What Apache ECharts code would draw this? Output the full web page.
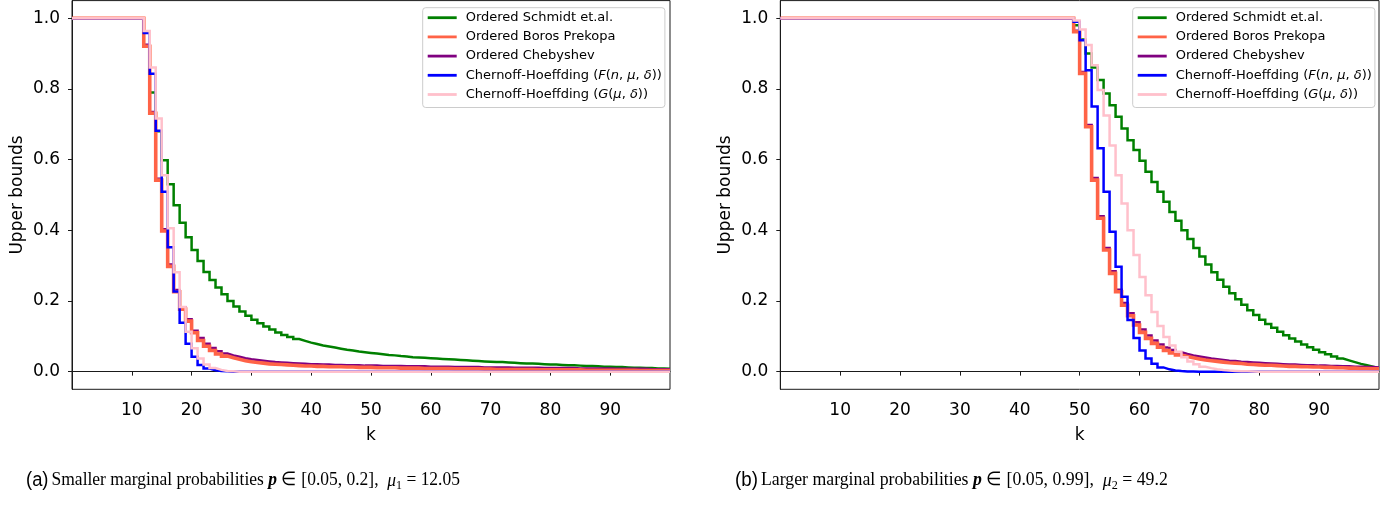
<!DOCTYPE html>
<html>
<head>
<meta charset="utf-8">
<script src="https://cdn.jsdelivr.net/npm/echarts@6/dist/echarts.min.js"></script>
<style>
html,body{margin:0;padding:0;background:#fff;}
#chart{width:1394px;height:505px;}
</style>
</head>
<body>
<div id="chart"></div>
<script>
// k = 0..100
const kValues = Array.from({length: 101}, (_, i) => i);
const xTicks = [10, 20, 30, 40, 50, 60, 70, 80, 90];
const yTicks = [0, 0.2, 0.4, 0.6, 0.8, 1.0];

const seriesNames = [
  'Ordered Schmidt et.al.',
  'Ordered Boros Prekopa',
  'Ordered Chebyshev',
  'Chernoff-Hoeffding (F(n, μ, δ))',
  'Chernoff-Hoeffding (G(μ, δ))'
];

// ---- (a) mu1 = 12.05 ----
const leftSchmidt = [
  1,1,1,1,1,1,1,1,1,1,
  1,1,1,0.92,0.79,0.68,0.598,0.53,0.471,0.421,
  0.38,0.344,0.313,0.282,0.259,0.238,0.219,0.2,0.184,0.17,
  0.158,0.147,0.137,0.128,0.119,0.111,0.104,0.098,0.092,0.087,
  0.082,0.078,0.074,0.071,0.068,0.065,0.062,0.06,0.057,0.055,
  0.053,0.051,0.049,0.047,0.046,0.044,0.043,0.041,0.04,0.039,
  0.038,0.037,0.036,0.035,0.034,0.033,0.032,0.031,0.03,0.029,
  0.028,0.027,0.027,0.026,0.025,0.024,0.023,0.023,0.022,0.021,
  0.02,0.02,0.019,0.018,0.018,0.017,0.016,0.016,0.015,0.014,
  0.014,0.013,0.013,0.012,0.011,0.011,0.01,0.01,0.009,0.009,
  0.008
];
const leftBoros = [
  1,1,1,1,1,1,1,1,1,1,
  1,1,1,0.921,0.731,0.542,0.398,0.298,0.226,0.177,
  0.143,0.11,0.088,0.072,0.06,0.05,0.044,0.039,0.035,0.031,
  0.028,0.026,0.024,0.022,0.021,0.02,0.019,0.018,0.017,0.016,
  0.016,0.015,0.015,0.014,0.014,0.014,0.013,0.013,0.012,0.012,
  0.012,0.011,0.011,0.011,0.011,0.01,0.01,0.01,0.01,0.009,
  0.009,0.009,0.009,0.009,0.008,0.008,0.008,0.008,0.008,0.007,
  0.007,0.006,0.006,0.006,0.006,0.006,0.006,0.006,0.005,0.005,
  0.005,0.005,0.005,0.005,0.005,0.005,0.004,0.004,0.004,0.004,
  0.004,0.004,0.004,0.004,0.004,0.003,0.003,0.003,0.003,0.003,
  0.003
];
const leftCheb = [
  1,1,1,1,1,1,1,1,1,1,
  1,1,1,0.925,0.735,0.546,0.403,0.303,0.231,0.182,
  0.148,0.116,0.095,0.079,0.067,0.058,0.051,0.046,0.042,0.038,
  0.035,0.033,0.031,0.029,0.027,0.026,0.025,0.024,0.023,0.022,
  0.021,0.021,0.02,0.02,0.019,0.019,0.018,0.018,0.018,0.017,
  0.017,0.017,0.016,0.016,0.016,0.016,0.015,0.015,0.015,0.015,
  0.014,0.014,0.014,0.014,0.013,0.013,0.013,0.013,0.013,0.012,
  0.012,0.012,0.012,0.012,0.011,0.011,0.011,0.011,0.011,0.01,
  0.01,0.01,0.01,0.01,0.01,0.009,0.009,0.009,0.009,0.009,
  0.009,0.008,0.008,0.008,0.008,0.008,0.008,0.007,0.007,0.007,
  0.007
];
const leftChernoffF = [
  1,1,1,1,1,1,1,1,1,1,
  1,1,1,0.958,0.843,0.682,0.509,0.352,0.227,0.138,
  0.079,0.042,0.019,0.009,0.004,0.002,0.001,0,0,0,
  0,0,0,0,0,0,0,0,0,0,
  0,0,0,0,0,0,0,0,0,0,
  0,0,0,0,0,0,0,0,0,0,
  0,0,0,0,0,0,0,0,0,0,
  0,0,0,0,0,0,0,0,0,0,
  0,0,0,0,0,0,0,0,0,0,
  0,0,0,0,0,0,0,0,0,0,
  0
];
const leftChernoffG = [
  1,1,1,1,1,1,1,1,1,1,
  1,1,1,0.964,0.861,0.716,0.556,0.406,0.281,0.183,
  0.113,0.066,0.037,0.02,0.01,0.005,0.002,0.001,0,0,
  0,0,0,0,0,0,0,0,0,0,
  0,0,0,0,0,0,0,0,0,0,
  0,0,0,0,0,0,0,0,0,0,
  0,0,0,0,0,0,0,0,0,0,
  0,0,0,0,0,0,0,0,0,0,
  0,0,0,0,0,0,0,0,0,0,
  0,0,0,0,0,0,0,0,0,0,
  0
];

// ---- (b) mu2 = 49.2 ----
const rightSchmidt = [
  1,1,1,1,1,1,1,1,1,1,
  1,1,1,1,1,1,1,1,1,1,
  1,1,1,1,1,1,1,1,1,1,
  1,1,1,1,1,1,1,1,1,1,
  1,1,1,1,1,1,1,1,1,1,
  0.98,0.94,0.9,0.861,0.825,0.787,0.754,0.721,0.688,0.655,
  0.627,0.597,0.566,0.537,0.509,0.481,0.452,0.427,0.4,0.375,
  0.35,0.326,0.303,0.281,0.26,0.24,0.222,0.205,0.189,0.174,
  0.16,0.147,0.135,0.124,0.113,0.103,0.094,0.085,0.077,0.069,
  0.062,0.055,0.049,0.043,0.037,0.032,0.027,0.022,0.018,0.014,
  0.01
];
const rightBoros = [
  1,1,1,1,1,1,1,1,1,1,
  1,1,1,1,1,1,1,1,1,1,
  1,1,1,1,1,1,1,1,1,1,
  1,1,1,1,1,1,1,1,1,1,
  1,1,1,1,1,1,1,1,1,1,
  0.962,0.844,0.693,0.542,0.434,0.344,0.278,0.226,0.188,0.158,
  0.132,0.111,0.094,0.08,0.069,0.06,0.053,0.047,0.043,0.039,
  0.036,0.033,0.031,0.029,0.027,0.025,0.024,0.023,0.021,0.02,
  0.019,0.018,0.018,0.017,0.016,0.015,0.015,0.014,0.014,0.013,
  0.013,0.012,0.012,0.011,0.011,0.01,0.01,0.009,0.009,0.008,
  0.008
];
const rightCheb = [
  1,1,1,1,1,1,1,1,1,1,
  1,1,1,1,1,1,1,1,1,1,
  1,1,1,1,1,1,1,1,1,1,
  1,1,1,1,1,1,1,1,1,1,
  1,1,1,1,1,1,1,1,1,1,
  0.965,0.848,0.698,0.548,0.44,0.35,0.284,0.232,0.194,0.165,
  0.14,0.119,0.102,0.088,0.077,0.068,0.061,0.055,0.05,0.046,
  0.043,0.04,0.037,0.035,0.033,0.031,0.03,0.028,0.027,0.026,
  0.025,0.024,0.023,0.022,0.021,0.02,0.02,0.019,0.018,0.018,
  0.017,0.017,0.016,0.016,0.015,0.015,0.014,0.014,0.013,0.013,
  0.012
];
const rightChernoffF = [
  1,1,1,1,1,1,1,1,1,1,
  1,1,1,1,1,1,1,1,1,1,
  1,1,1,1,1,1,1,1,1,1,
  1,1,1,1,1,1,1,1,1,1,
  1,1,1,1,1,1,1,1,1,1,
  0.99,0.938,0.853,0.75,0.632,0.509,0.396,0.297,0.212,0.146,
  0.095,0.06,0.037,0.022,0.012,0.0065,0.0033,0.0016,0.0007,0.0003,
  0,0,0,0,0,0,0,0,0,0,
  0,0,0,0,0,0,0,0,0,0,
  0,0,0,0,0,0,0,0,0,0,
  0
];
const rightChernoffG = [
  1,1,1,1,1,1,1,1,1,1,
  1,1,1,1,1,1,1,1,1,1,
  1,1,1,1,1,1,1,1,1,1,
  1,1,1,1,1,1,1,1,1,1,
  1,1,1,1,1,1,1,1,1,1,
  0.994,0.968,0.924,0.867,0.797,0.725,0.64,0.556,0.476,0.4,
  0.33,0.268,0.216,0.169,0.129,0.098,0.074,0.056,0.041,0.029,
  0.021,0.014,0.0099,0.0067,0.0045,0.003,0.002,0.0013,0.0008,0.0005,
  0,0,0,0,0,0,0,0,0,0,
  0,0,0,0,0,0,0,0,0,0,
  0
];

const colors = ['#008000', '#ff6347', '#800080', '#0000ff', '#ffc0cb'];
const widths = [2.5, 3.6, 2.5, 2.5, 2.5];
const zs = [2, 4, 3, 5, 6];

const FONT = 'DejaVu Sans';
const AXC = '#1a1a1a';

function pairs(arr) { return kValues.map((k, i) => [k, arr[i]]); }

function makeSeries(arrs, gi) {
  return arrs.map((arr, j) => ({
    name: seriesNames[j],
    type: 'line',
    step: 'start',
    xAxisIndex: gi,
    yAxisIndex: gi,
    showSymbol: false,
    symbol: 'none',
    z: zs[j],
    data: pairs(arr),
    lineStyle: { color: colors[j], width: widths[j], join: 'miter', cap: 'butt' },
    itemStyle: { color: colors[j] },
    emphasis: { disabled: true },
    animation: false
  }));
}

function xAxisCfg(gi) {
  return {
    gridIndex: gi, type: 'value', min: 0, max: 100,
    name: 'k', nameLocation: 'middle', nameGap: 38,
    nameTextStyle: { fontFamily: FONT, fontSize: 17, color: '#000' },
    axisLine: { show: true, lineStyle: { color: AXC, width: 1 } },
    axisTick: { show: true, customValues: xTicks, length: 4, lineStyle: { color: AXC, width: 1 } },
    axisLabel: { customValues: xTicks, fontFamily: FONT, fontSize: 17, color: '#000', margin: 13 },
    splitLine: { show: false }
  };
}
function yAxisCfg(gi) {
  return {
    gridIndex: gi, type: 'value', min: -0.05, max: 1.05,
    name: 'Upper bounds', nameLocation: 'middle', nameGap: 46,
    nameTextStyle: { fontFamily: FONT, fontSize: 17, color: '#000' },
    axisLine: { show: true, lineStyle: { color: AXC, width: 1 } },
    axisTick: { show: true, customValues: yTicks, length: 4, lineStyle: { color: AXC, width: 1 } },
    axisLabel: { customValues: yTicks, fontFamily: FONT, fontSize: 17, color: '#000', margin: 12,
      formatter: v => Number(v).toFixed(1) },
    splitLine: { show: false }
  };
}

const richLegend = {
  n: { fontFamily: FONT, fontSize: 13, color: '#000' },
  i: { fontFamily: FONT, fontSize: 13, fontStyle: 'italic', color: '#000' }
};
function legendFormatter(name) {
  if (name === seriesNames[3]) return '{n|Chernoff-Hoeffding (}{i|F}{n|(}{i|n}{n|, }{i|μ}{n|, }{i|δ}{n|))}';
  if (name === seriesNames[4]) return '{n|Chernoff-Hoeffding (}{i|G}{n|(}{i|μ}{n|, }{i|δ}{n|))}';
  return '{n|' + name + '}';
}
function legendCfg(left) {
  return {
    orient: 'vertical', left: left, top: 7.7,
    data: seriesNames,
    icon: 'rect', itemWidth: 29, itemHeight: 2.8, itemGap: 3.2,
    padding: [2, 3, 5, 5],
    backgroundColor: 'rgba(255,255,255,0.85)',
    borderColor: '#cccccc', borderWidth: 1, borderRadius: 3,
    selectedMode: false,
    formatter: legendFormatter,
    textStyle: { fontFamily: FONT, fontSize: 13, color: '#000', lineHeight: 16, padding: [0, 0, 0, 4], rich: richLegend }
  };
}

const capRich = {
  lab: { fontFamily: 'Liberation Sans', fontSize: 20, color: '#000', lineHeight: 24 },
  t: { fontFamily: 'Liberation Serif', fontSize: 19, color: '#000', lineHeight: 24 },
  bi: { fontFamily: 'Liberation Serif', fontSize: 19, fontStyle: 'italic', fontWeight: 'bold', color: '#000', lineHeight: 24 },
  i: { fontFamily: 'Liberation Serif', fontSize: 19, fontStyle: 'italic', color: '#000', lineHeight: 24 },
  sub: { fontFamily: 'Liberation Serif', fontSize: 13, color: '#000', lineHeight: 14, padding: [10, 0, 0, 0] }
};

const chart = echarts.init(document.getElementById('chart'), null, { renderer: 'canvas' });
chart.setOption({
  animation: false,
  backgroundColor: '#fff',
  grid: [
    { left: 72, top: 0.6, width: 598, height: 388.7, show: true, borderColor: AXC, borderWidth: 1, backgroundColor: 'transparent' },
    { left: 780.3, top: 0.6, width: 598.7, height: 388.7, show: true, borderColor: AXC, borderWidth: 1, backgroundColor: 'transparent' }
  ],
  xAxis: [xAxisCfg(0), xAxisCfg(1)],
  yAxis: [yAxisCfg(0), yAxisCfg(1)],
  legend: [legendCfg(422.7), legendCfg(1132.7)],
  series: [].concat(
    makeSeries([leftSchmidt, leftBoros, leftCheb, leftChernoffF, leftChernoffG], 0),
    makeSeries([rightSchmidt, rightBoros, rightCheb, rightChernoffF, rightChernoffG], 1)
  ),
  graphic: [
    { type: 'text', left: 26, top: 469, scaleX: 0.92, silent: true,
      style: { text: '{lab|(a)} {t|Smaller marginal probabilities }{bi|p}{t| ∈ [0.05, 0.2],  }{i|μ}{sub|1}{t| = 12.05}', rich: capRich } },
    { type: 'text', left: 735, top: 469, scaleX: 0.935, silent: true,
      style: { text: '{lab|(b)} {t|Larger marginal probabilities }{bi|p}{t| ∈ [0.05, 0.99],  }{i|μ}{sub|2}{t| = 49.2}', rich: capRich } }
  ]
});
</script>
</body>
</html>
